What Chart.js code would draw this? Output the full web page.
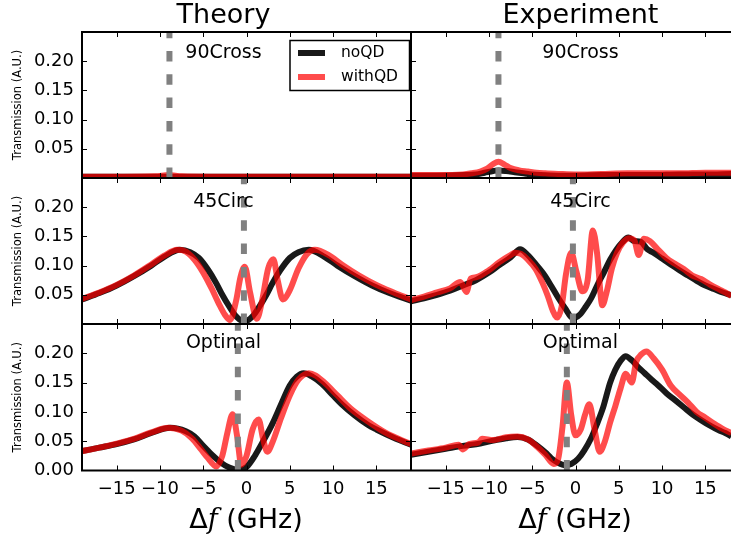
<!DOCTYPE html>
<html>
<head>
<meta charset="utf-8">
<script src="https://cdn.jsdelivr.net/npm/chart.js@4/dist/chart.umd.min.js"></script>
<style>
  html, body { margin: 0; padding: 0; background: #fff; overflow: hidden; }
  body { width: 731px; height: 535px; position: relative; font-family: 'DejaVu Sans', sans-serif; }
  .panel { position: absolute; }
  .xlabel { position: absolute; top: 503px; font-size: 27px; transform: translateX(-50%); white-space: nowrap; color: #000; }
  .xlabel i { font-family: 'DejaVu Serif', serif; }
</style>
</head>
<body>
<div class="panel" style="left:0;top:0;width:411px;height:178px"><canvas id="c00"></canvas></div>
<div class="panel" style="left:411px;top:0;width:329px;height:178px"><canvas id="c01"></canvas></div>
<div class="panel" style="left:0;top:178px;width:411px;height:146px"><canvas id="c10"></canvas></div>
<div class="panel" style="left:411px;top:178px;width:329px;height:146px"><canvas id="c11"></canvas></div>
<div class="panel" style="left:0;top:324px;width:411px;height:211px"><canvas id="c20"></canvas></div>
<div class="panel" style="left:411px;top:324px;width:329px;height:211px"><canvas id="c21"></canvas></div>
<div class="xlabel" style="left:246px">&Delta;<i>f</i> (GHz)</div>
<div class="xlabel" style="left:575px">&Delta;<i>f</i> (GHz)</div>
<script>
// --- tick labels / categories ---
const COLUMNS = ["Theory", "Experiment"];
const ROWS = ["90Cross", "45Circ", "Optimal"];
const SERIES = ["noQD", "withQD"];
const X_TICKS = [-15, -10, -5, 0, 5, 10, 15];
const Y_TICKS = [0.05, 0.10, 0.15, 0.20];
const Y_TICKS_BOTTOM = [0.00, 0.05, 0.10, 0.15, 0.20];
const MARKERS = [-8.9, -0.3, -1.0]; // dashed line per row (GHz)

// --- Theory / 90Cross ---
const thCrossNoF = [-19, -9, 0, 10, 19];
const thCrossNoT = [0.002, 0.002, 0.002, 0.002, 0.002];
const thCrossQdF = [-19, -10.5, -9, -7.5, 0, 10, 19];
const thCrossQdT = [0.002, 0.003, 0.005, 0.003, 0.002, 0.002, 0.002];

// --- Experiment / 90Cross ---
const exCrossNoF = [-19, -16, -13, -11.5, -10.5, -9.5, -8.9, -8, -7, -6, -5, -4, -2, 0, 3, 6, 9, 12, 15, 18];
const exCrossNoT = [0.004, 0.004, 0.005, 0.006, 0.009, 0.012, 0.013, 0.012, 0.010, 0.008, 0.006, 0.005, 0.004, 0.004, 0.005, 0.005, 0.005, 0.006, 0.006, 0.007];
const exCrossQdF = [-19, -16, -13, -12, -11, -10.2, -9.5, -8.9, -8.2, -7.5, -6.5, -5.5, -4.5, -3.5, -2, 0, 3, 6, 9, 12, 15, 18];
const exCrossQdT = [0.005, 0.005, 0.006, 0.008, 0.011, 0.016, 0.024, 0.028, 0.023, 0.017, 0.013, 0.011, 0.009, 0.008, 0.007, 0.006, 0.007, 0.008, 0.008, 0.008, 0.009, 0.009];

// --- Theory / 45Circ ---
const thCircNoF = [-19, -17, -15, -13, -11, -9.5, -7.7, -6.5, -5.5, -4.4, -3.5, -2.8, -2, -1.2, -0.25, 0.7, 1.5, 2.3, 3.0, 3.9, 5.0, 6.0, 7.2, 9.0, 10.5, 12.5, 14.5, 16.5, 19];
const thCircNoT = [0.042, 0.053, 0.066, 0.082, 0.100, 0.115, 0.127, 0.123, 0.113, 0.092, 0.070, 0.050, 0.030, 0.013, 0.004, 0.013, 0.030, 0.050, 0.070, 0.092, 0.113, 0.123, 0.127, 0.115, 0.100, 0.082, 0.066, 0.053, 0.040];
const thCircQdF = [-19, -17, -15, -13, -11, -9.5, -8.0, -7.0, -6.0, -5.0, -4.0, -3.2, -2.5, -1.9, -1.2, -0.7, -0.2, 0.4, 1.2, 1.8, 2.5, 3.1, 3.6, 4.2, 5.0, 6.0, 7.0, 7.9, 9.5, 11, 13, 15, 17, 19];
const thCircQdT = [0.043, 0.054, 0.067, 0.083, 0.102, 0.117, 0.127, 0.124, 0.110, 0.088, 0.060, 0.035, 0.016, 0.007, 0.040, 0.080, 0.098, 0.055, 0.009, 0.040, 0.095, 0.111, 0.075, 0.042, 0.058, 0.095, 0.120, 0.127, 0.118, 0.102, 0.083, 0.067, 0.054, 0.042];

// --- Experiment / 45Circ ---
const exCircNoF = [-19, -17.5, -16, -14.5, -13, -11.5, -10, -8.8, -7.5, -6.4, -5.5, -4.4, -3.5, -2.8, -2, -1.2, -0.3, 0.5, 1.2, 1.8, 2.5, 3.3, 4, 4.7, 5.4, 6.1, 6.8, 7.5, 8.3, 9, 10, 11, 12, 13, 14, 15, 16, 17, 18];
const exCircNoT = [0.039, 0.044, 0.050, 0.057, 0.066, 0.075, 0.088, 0.101, 0.114, 0.128, 0.118, 0.099, 0.082, 0.065, 0.045, 0.027, 0.010, 0.016, 0.030, 0.044, 0.066, 0.089, 0.110, 0.127, 0.140, 0.148, 0.142, 0.141, 0.128, 0.122, 0.112, 0.102, 0.092, 0.083, 0.074, 0.066, 0.060, 0.054, 0.049];
const exCircQdF = [-19, -17.5, -16, -14.5, -13.3, -12.6, -12.1, -11.5, -10, -8.8, -7.5, -7.0, -6.3, -5.5, -4.6, -3.8, -3.2, -2.6, -2.1, -1.6, -1.1, -0.5, 0.1, 0.8, 1.4, 2.0, 2.5, 3.1, 3.6, 4.2, 4.8, 5.5, 6.2, 6.8, 7.3, 7.9, 8.6, 9.5, 10.5, 11.5, 12.5, 13.5, 14.5, 15.5, 16.5, 17.3, 18];
const exCircQdT = [0.041, 0.047, 0.054, 0.061, 0.072, 0.055, 0.078, 0.080, 0.092, 0.106, 0.118, 0.122, 0.120, 0.110, 0.094, 0.070, 0.048, 0.022, 0.011, 0.030, 0.085, 0.122, 0.090, 0.056, 0.075, 0.160, 0.120, 0.032, 0.055, 0.095, 0.122, 0.140, 0.147, 0.143, 0.118, 0.146, 0.142, 0.128, 0.113, 0.103, 0.094, 0.083, 0.077, 0.068, 0.060, 0.054, 0.048];

// --- Theory / Optimal ---
const thOptNoF = [-19, -17, -15, -13, -11, -8.8, -7, -6, -5, -4, -3, -2, -1, 0, 1, 2, 3, 4, 5, 5.8, 6.6, 7.5, 8.7, 10, 11, 12.5, 14, 15, 17, 19];
const thOptNoT = [0.033, 0.039, 0.045, 0.053, 0.064, 0.073, 0.067, 0.058, 0.042, 0.027, 0.014, 0.005, 0.001, 0.006, 0.026, 0.052, 0.080, 0.113, 0.145, 0.160, 0.166, 0.161, 0.148, 0.128, 0.113, 0.094, 0.078, 0.070, 0.056, 0.044];
const thOptQdF = [-19, -17, -15, -13, -11, -9, -7.5, -6.3, -5.2, -4.5, -3.5, -2.8, -2.2, -1.6, -1.1, -0.6, 0, 0.7, 1.4, 1.9, 2.4, 3.0, 4.0, 5.0, 6.0, 7.2, 8.0, 9, 10.5, 12, 14, 16, 19];
const thOptQdT = [0.033, 0.039, 0.046, 0.054, 0.065, 0.073, 0.068, 0.055, 0.035, 0.022, 0.007, 0.025, 0.065, 0.096, 0.060, 0.010, 0.025, 0.070, 0.087, 0.055, 0.032, 0.048, 0.090, 0.128, 0.155, 0.166, 0.162, 0.150, 0.128, 0.106, 0.084, 0.065, 0.045];

// --- Experiment / Optimal ---
const exOptNoF = [-19, -17, -15, -13, -11, -9.5, -8, -6.7, -5.5, -4.4, -3.5, -2.8, -2, -1.2, -0.5, 0.3, 1, 1.8, 2.5, 3.2, 4, 4.6, 5.2, 5.8, 6.5, 7.2, 8, 8.8, 9.5, 10.5, 11.5, 12.5, 13.5, 14.5, 15.5, 16.5, 17.3, 18];
const exOptNoT = [0.027, 0.032, 0.037, 0.042, 0.046, 0.051, 0.055, 0.057, 0.053, 0.042, 0.031, 0.021, 0.013, 0.009, 0.011, 0.020, 0.034, 0.055, 0.080, 0.108, 0.150, 0.172, 0.187, 0.195, 0.188, 0.177, 0.166, 0.155, 0.146, 0.132, 0.120, 0.108, 0.096, 0.086, 0.077, 0.069, 0.064, 0.058];
const exOptQdF = [-19, -17, -15, -13.5, -13, -12.3, -11.2, -10.8, -9.5, -8, -6.7, -5.5, -4.4, -3.5, -2.5, -2.0, -1.5, -1.0, -0.5, 0.0, 0.6, 1.1, 1.6, 2.2, 2.8, 3.4, 4, 4.6, 5.2, 5.8, 6.5, 7.0, 7.6, 8.2, 9, 10, 11, 12, 13, 14, 15, 16, 17, 18];
const exOptQdT = [0.029, 0.034, 0.039, 0.044, 0.036, 0.045, 0.048, 0.054, 0.052, 0.057, 0.058, 0.053, 0.040, 0.027, 0.011, 0.020, 0.075, 0.150, 0.095, 0.060, 0.070, 0.095, 0.113, 0.070, 0.032, 0.050, 0.082, 0.110, 0.140, 0.165, 0.150, 0.185, 0.198, 0.203, 0.192, 0.172, 0.145, 0.130, 0.116, 0.100, 0.090, 0.080, 0.071, 0.064];

const FONT = "'DejaVu Sans', sans-serif";
Chart.defaults.font.family = FONT;
Chart.defaults.color = "#000";

const pts = (f, t) => f.map((v, i) => ({ x: v, y: t[i] }));
const minus = v => (v < 0 ? "\u2212" + Math.abs(v) : String(v));

// no label overhang padding, fixed axis sizes
const fixBox = size => s => {
  s.paddingTop = s.paddingBottom = s.paddingLeft = s.paddingRight = 0;
  if (!s.options.display) { if (s.isHorizontal()) s.height = 0; else s.width = 0; return; }
  if (s.isHorizontal()) s.height = size; else s.width = size;
};

// inward ticks, frame, column title, panel name and (optional) legend
const panelDecor = {
  id: "panelDecor",
  afterDatasetsDraw(chart, args, opts) {
    const { ctx, chartArea: a, scales: { x, y } } = chart;
    const tx = a.left + opts.nameX * (a.right - a.left);
    ctx.save();
    ctx.strokeStyle = "#000";
    ctx.lineWidth = 1;
    ctx.beginPath();
    X_TICKS.forEach(v => {
      const px = Math.round(x.getPixelForValue(v)) + 0.5;
      ctx.moveTo(px, a.bottom); ctx.lineTo(px, a.bottom - 5);
      ctx.moveTo(px, a.top); ctx.lineTo(px, a.top + 5);
    });
    Y_TICKS.forEach(v => {
      const py = Math.round(y.getPixelForValue(v)) + 0.5;
      ctx.moveTo(a.left, py); ctx.lineTo(a.left + 5, py);
      ctx.moveTo(a.right, py); ctx.lineTo(a.right - 5, py);
    });
    ctx.stroke();

    ctx.lineWidth = 2;
    ctx.strokeRect(a.left, a.top, a.right - a.left, a.bottom - a.top);

    ctx.fillStyle = "#000";
    ctx.textAlign = "center";
    if (opts.title) {
      ctx.font = "27px " + FONT;
      ctx.textBaseline = "alphabetic";
      ctx.fillText(opts.title, tx, a.top - 8.8);
    }
    ctx.font = "19px " + FONT;
    ctx.textBaseline = "middle";
    ctx.fillText(opts.name, tx, a.top + opts.nameY);

    if (opts.legend) {
      const w = 119.5, h = 50;
      const bx = a.right - 1.5 - w, by = a.top + 8.5;
      ctx.fillStyle = "#fff";
      ctx.fillRect(bx, by, w, h);
      ctx.lineWidth = 1.5;
      ctx.strokeRect(bx, by, w, h);
      const ds = chart.data.datasets.filter(d => SERIES.includes(d.label))
        .sort((p, q) => SERIES.indexOf(p.label) - SERIES.indexOf(q.label));
      ctx.font = "15.5px " + FONT;
      ctx.textAlign = "left";
      ds.forEach((d, i) => {
        const ly = by + 12.5 + i * 24;
        ctx.strokeStyle = d.borderColor;
        ctx.lineWidth = 6;
        ctx.beginPath();
        ctx.moveTo(bx + 8, ly); ctx.lineTo(bx + 35, ly);
        ctx.stroke();
        ctx.fillStyle = "#000";
        ctx.fillText(d.label, bx + 51, ly);
      });
    }
    ctx.restore();
  }
};

const PANELS = [
  { id: "c00", row: 0, col: 0, no: [thCrossNoF, thCrossNoT], qd: [thCrossQdF, thCrossQdT], nameX: 0.43, nameY: 21, legend: true },
  { id: "c01", row: 0, col: 1, no: [exCrossNoF, exCrossNoT], qd: [exCrossQdF, exCrossQdT], nameX: 0.515, nameY: 21 },
  { id: "c10", row: 1, col: 0, no: [thCircNoF, thCircNoT], qd: [thCircQdF, thCircQdT], nameX: 0.43, nameY: 24 },
  { id: "c11", row: 1, col: 1, no: [exCircNoF, exCircNoT], qd: [exCircQdF, exCircQdT], nameX: 0.515, nameY: 24 },
  { id: "c20", row: 2, col: 0, no: [thOptNoF, thOptNoT], qd: [thOptQdF, thOptQdT], nameX: 0.43, nameY: 19 },
  { id: "c21", row: 2, col: 1, no: [exOptNoF, exOptNoT], qd: [exOptQdF, exOptQdT], nameX: 0.515, nameY: 19 }
];

PANELS.forEach(p => {
  const bottom = p.row === 2;
  const line = { pointRadius: 0, fill: false, borderWidth: 6, cubicInterpolationMode: "monotone", clip: 0, borderJoinStyle: "round" };
  const yTicks = bottom ? Y_TICKS_BOTTOM : Y_TICKS;

  new Chart(document.getElementById(p.id), {
    type: "line",
    data: {
      datasets: [
        { label: "marker", data: [{ x: MARKERS[p.row], y: 0 }, { x: MARKERS[p.row], y: 0.25 }],
          borderColor: "#808080", borderWidth: 6, borderDash: [10.5, 12.8], pointRadius: 0, clip: 0 },
        { ...line, label: SERIES[1], data: pts(p.qd[0], p.qd[1]), borderColor: "rgba(255,0,0,0.7)" },
        { ...line, label: SERIES[0], data: pts(p.no[0], p.no[1]), borderColor: "rgba(0,0,0,0.9)" }
      ]
    },
    options: {
      responsive: true,
      maintainAspectRatio: false,
      animation: false,
      events: [],
      layout: { padding: { top: p.row === 0 ? 32 : 0 } },
      plugins: {
        legend: { display: false },
        tooltip: { enabled: false },
        panelDecor: {
          title: p.row === 0 ? COLUMNS[p.col] : null,
          name: ROWS[p.row], nameX: p.nameX, nameY: p.nameY, legend: !!p.legend
        }
      },
      scales: {
        x: {
          type: "linear", min: -19, max: 19, display: bottom,
          afterBuildTicks: s => { s.ticks = X_TICKS.map(v => ({ value: v })); },
          afterFit: fixBox(64.5),
          grid: { display: false, drawTicks: false },
          border: { display: false },
          ticks: { font: { size: 18 }, color: "#000", padding: 8, maxRotation: 0, autoSkip: false, callback: v => minus(v) }
        },
        y: {
          type: "linear", min: 0, max: 0.25, display: p.col === 0,
          afterBuildTicks: s => { s.ticks = yTicks.map(v => ({ value: v })); },
          afterFit: fixBox(82),
          grid: { display: false, drawTicks: false },
          border: { display: false },
          ticks: { font: { size: 18 }, color: "#000", padding: 8, callback: v => v.toFixed(2) },
          title: { display: true, text: "Transmission (A.U.)", font: { size: 11.5 }, color: "#000", padding: { top: 11, bottom: 0 } }
        }
      }
    },
    plugins: [panelDecor]
  });
});
</script>
</body>
</html>
